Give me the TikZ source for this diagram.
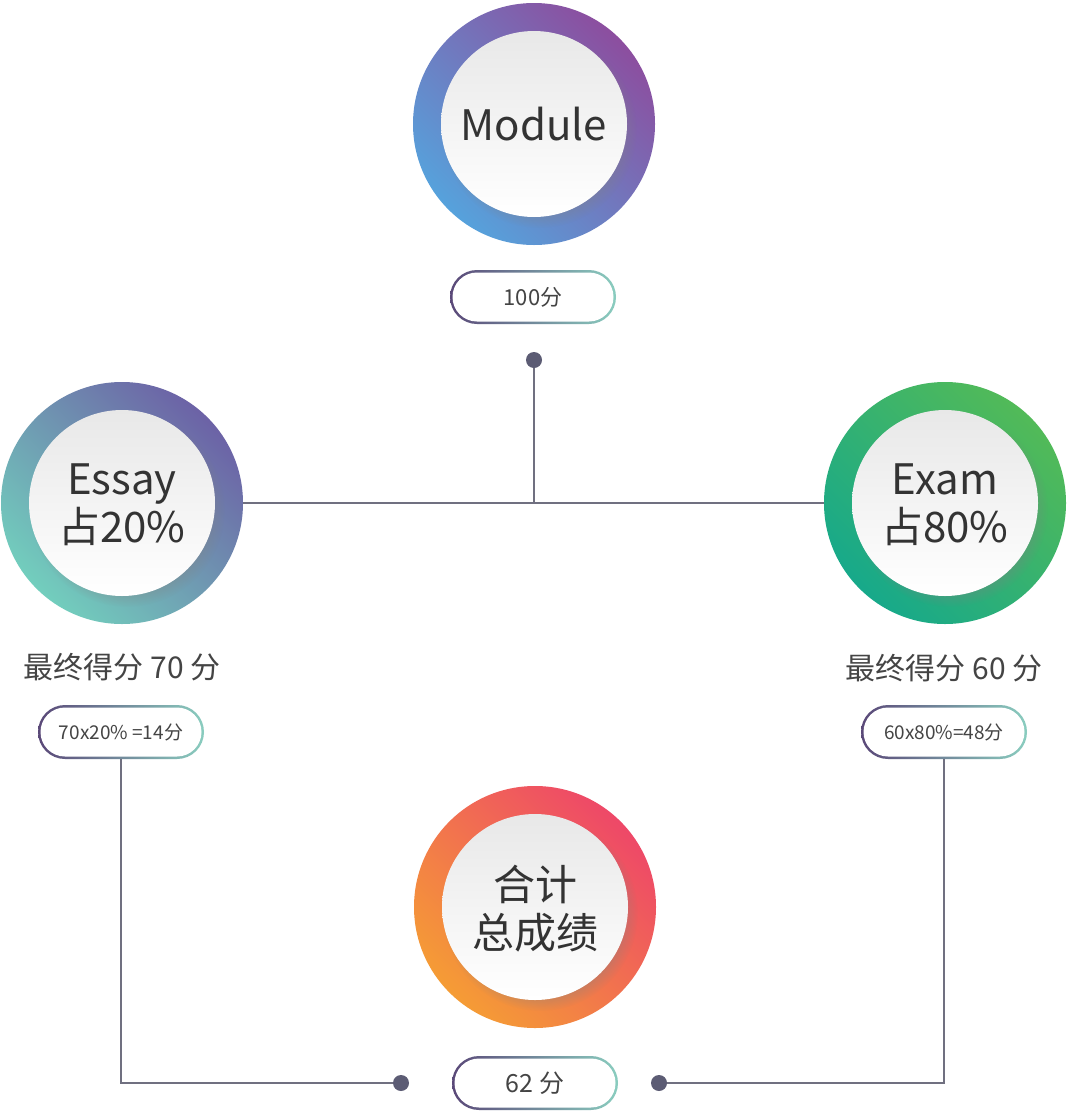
\documentclass[tikz,border=0pt]{standalone}
\usepackage{fontspec}
\setmainfont{Noto Sans CJK SC}
\usetikzlibrary{shadows}
\definecolor{ink}{HTML}{333333}
\definecolor{txt}{HTML}{444444}
\definecolor{wire}{HTML}{707080}
\definecolor{knob}{HTML}{5C5C74}
\definecolor{modA}{HTML}{56A2DC}
\definecolor{modB}{HTML}{8C4E9F}
\definecolor{essA}{HTML}{72CEBD}
\definecolor{essB}{HTML}{6C62A6}
\definecolor{exaA}{HTML}{17A98A}
\definecolor{exaB}{HTML}{52BA58}
\definecolor{totA}{HTML}{F59C35}
\definecolor{totB}{HTML}{EE4868}
\definecolor{rimA}{HTML}{5A4878}
\definecolor{rimB}{HTML}{8ACDBF}
\tikzset{
  ring/.style 2 args={circle, inner sep=0pt, minimum size=242pt,
    left color=#1, right color=#2, shading angle=135},
  face/.style={circle, inner sep=0pt, minimum size=186pt,
    top color=black!9, bottom color=white, text=ink, align=center,
    font=\fontsize{42}{48}\selectfont, text depth=0pt,
    circular drop shadow={shadow scale=1.05, shadow xshift=5pt,
      shadow yshift=-6pt, opacity=0.35}},
  rim/.style={rectangle, rounded corners=27pt, inner sep=0pt,
    minimum width=166pt, minimum height=54pt,
    left color=rimA, right color=rimB},
  pill/.style={rectangle, rounded corners=24.5pt, inner sep=0pt,
    minimum width=161pt, minimum height=49pt, fill=white, text=txt},
  score/.style={text=txt, font=\fontsize{30}{30}\selectfont},
  knobdot/.style={circle, fill=knob, inner sep=0pt, minimum size=16pt},
  link/.style={draw=wire, line width=1.5pt},
}

\begin{document}
\begin{tikzpicture}[x=1pt, y=-1pt]
  \fill[white] (0,0) rectangle (1080,1119);
  \useasboundingbox (0,0) rectangle (1080,1119);

  % circles
  \node[ring={modA}{modB}] (moduleR) at (534,124) {};
  \node[face] (module) at (moduleR) {Module};

  \node[ring={essA}{essB}] (essayR) at (122,503) {};
  \node[face] (essay) at (essayR) {Essay\\占20\%};

  \node[ring={exaA}{exaB}] (examR) at (945,503) {};
  \node[face] (exam) at (examR) {Exam\\占80\%};

  \node[ring={totA}{totB}] (totalR) at (535,907) {};
  \node[face] (total) at (totalR) {合计\\总成绩};

  % top connector
  \node[knobdot] (dtop) at (534,360) {};
  \coordinate (join) at (534,503);
  \draw[link] (dtop) -- (join);
  \draw[link] (essayR.east) -- (examR.west);

  % scores
  \node[score] (essayS) at (122,667) {最终得分 70 分};
  \node[score] (examS) at (944,668) {最终得分 60 分};

  % pills
  \node[rim] (p100R) at (533,297) {};
  \node[pill, font=\fontsize{22}{22}\selectfont] (p100) at (p100R) {100分};

  \node[rim] (pessR) at (121,732) {};
  \node[pill, font=\fontsize{19}{19}\selectfont] (pess) at (pessR) {70x20\% =14分};

  \node[rim] (pexaR) at (944,732) {};
  \node[pill, font=\fontsize{19}{19}\selectfont] (pexa) at (pexaR) {60x80\%=48分};

  \node[rim] (psumR) at (535,1083) {};
  \node[pill, font=\fontsize{25}{25}\selectfont] (psum) at (psumR) {62 分};

  % bottom connectors
  \node[knobdot] (dleft) at (401,1083) {};
  \node[knobdot] (dright) at (659,1083) {};
  \draw[link] (pessR.south) |- (dleft);
  \draw[link] (pexaR.south) |- (dright);
\end{tikzpicture}
\end{document}
